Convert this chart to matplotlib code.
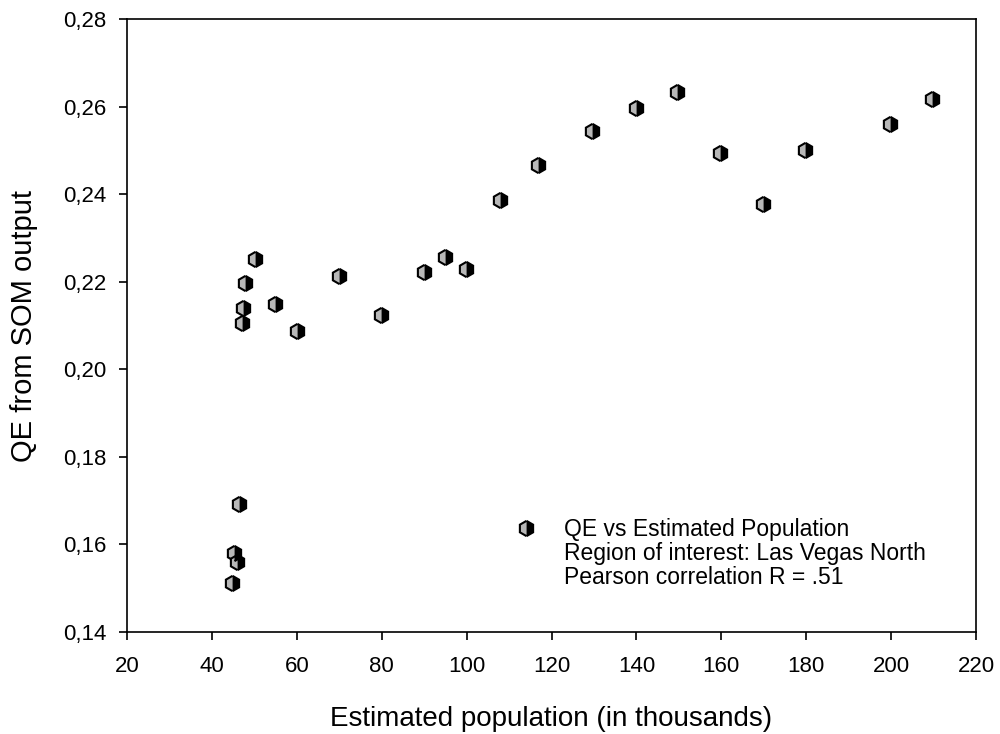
import matplotlib
matplotlib.use('Agg')
import matplotlib.pyplot as plt
from matplotlib.lines import Line2D
from matplotlib.ticker import FuncFormatter, MultipleLocator

plt.rcParams['font.family'] = ['Liberation Sans', 'DejaVu Sans']

# Population (thousands) and QE values
population = [44.7, 45.2, 45.9, 46.4, 47.1, 47.3, 47.8, 50.1, 54.8, 60.0,
              69.9, 79.8, 89.9, 94.8, 99.8, 107.8, 116.9, 129.6, 139.8,
              149.6, 159.8, 169.9, 179.8, 199.8, 209.6]
qe = [0.1512, 0.1580, 0.1560, 0.1692, 0.2105, 0.2139, 0.2198, 0.2253, 0.2150,
      0.2087, 0.2212, 0.2125, 0.2223, 0.2257, 0.2230, 0.2386, 0.2467, 0.2545,
      0.2598, 0.2633, 0.2493, 0.2378, 0.2500, 0.2561, 0.2617]

legend_lines = ['QE vs Estimated Population',
                'Region of interest: Las Vegas North',
                'Pearson correlation R = .51']

fig = plt.figure(figsize=(10, 7.34), dpi=100)
ax = fig.add_axes([0.127, 0.139, 0.849, 0.835])

marker_style = dict(marker='h', markersize=11, linestyle='none',
                    fillstyle='left', markerfacecolor='#b8b8b8',
                    markerfacecoloralt='black', markeredgecolor='black',
                    markeredgewidth=1.5)
ax.plot(population, qe, **marker_style)

ax.set_xlim(20, 220)
ax.set_ylim(0.14, 0.28)
ax.xaxis.set_major_locator(MultipleLocator(20))
ax.yaxis.set_major_locator(MultipleLocator(0.02))
ax.yaxis.set_major_formatter(FuncFormatter(lambda v, p: f'{v:.2f}'.replace('.', ',')))
ax.tick_params(direction='out', length=6, width=1.2, labelsize=16,
               top=False, right=False)
ax.tick_params(axis='x', pad=11)
ax.tick_params(axis='y', pad=9)
for s in ax.spines.values():
    s.set_linewidth(1.2)

ax.set_xlabel('Estimated population (in thousands)', fontsize=20, labelpad=21)
ax.set_ylabel('QE from SOM output', fontsize=21, labelpad=18)

handles = [Line2D([], [], **marker_style),
           Line2D([], [], linestyle='none'),
           Line2D([], [], linestyle='none')]
ax.legend(handles, legend_lines, loc='upper left', bbox_to_anchor=(0.44, 0.205),
          frameon=False, fontsize=16.5, borderpad=0, labelspacing=0.05,
          handlelength=1.2, handletextpad=1.05)

fig.savefig('out.png', dpi=100)
